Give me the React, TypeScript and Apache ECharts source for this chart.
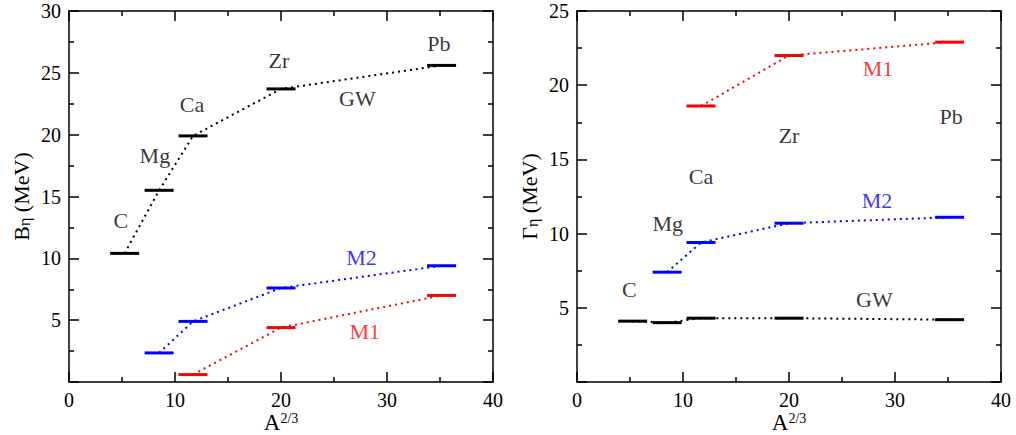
import React, { useEffect, useRef } from 'react';
import * as echarts from 'echarts';

// Nuclei and their A^(2/3) positions
const elements = ['C', 'Mg', 'Ca', 'Zr', 'Pb'];
const xA23 = [5.25, 8.5, 11.7, 20.0, 35.15];

// Left panel: binding energy B_eta (MeV)
const bindGW = [10.4, 15.5, 19.9, 23.7, 25.6];
const bindM2 = [null, 2.35, 4.9, 7.6, 9.4];
const bindM1 = [null, null, 0.6, 4.4, 7.0];

// Right panel: width Gamma_eta (MeV)
const widthGW = [4.1, 4.0, 4.3, 4.3, 4.2];
const widthM2 = [null, 7.4, 9.4, 10.7, 11.1];
const widthM1 = [null, null, 18.6, 22.0, 22.9];

// Annotation texts and their data positions
const labelText = ['C', 'Mg', 'Ca', 'Zr', 'Pb', 'GW', 'M2', 'M1'];
const labelColor = ['#000000', '#000000', '#000000', '#000000', '#000000', '#000000', '#0000ff', '#ff0000'];
const leftLabelX = [4.9, 8.1, 11.6, 19.8, 34.9, 27.2, 27.6, 27.9];
const leftLabelY = [13.06, 18.3, 22.4, 26.0, 27.4, 22.9, 10.05, 4.1];
const rightLabelX = [4.94, 8.56, 11.7, 20.0, 35.3, 28.05, 28.3, 28.4];
const rightLabelY = [6.25, 10.7, 13.83, 16.64, 17.88, 5.53, 12.26, 21.14];

const xTicks = { min: 0, max: 40, interval: 10 };
const leftYTicks = { min: 0, max: 30, interval: 5 };
const rightYTicks = { min: 0, max: 25, interval: 5 };

const FONT = "'Liberation Serif', 'Times New Roman', serif";

function pairs(vals: (number | null)[]) {
  const out: number[][] = [];
  xA23.forEach((x, i) => {
    const v = vals[i];
    if (v !== null && v !== undefined) out.push([x, v]);
  });
  return out;
}

const lineCol = { color: '#000', width: 1.5 };

function axisBase(showLabel: boolean, hideZero: boolean) {
  return {
    axisLine: { show: true, onZero: false, lineStyle: lineCol },
    axisTick: { show: true, inside: true, length: 10, lineStyle: lineCol },
    minorTick: { show: true, splitNumber: 2, length: 5, lineStyle: lineCol },
    splitLine: { show: false },
    minorSplitLine: { show: false },
    axisLabel: {
      show: showLabel,
      fontFamily: FONT,
      fontSize: 20,
      color: '#000',
      margin: 8,
      formatter: (v: number) => (hideZero && v === 0 ? '' : String(v)),
    },
  };
}

function xAxes(gridIndex: number) {
  return [
    {
      type: 'value',
      gridIndex,
      position: 'bottom',
      ...xTicks,
      ...axisBase(true, false),
      name: '{a|A}{s|2/3}',
      nameLocation: 'middle',
      nameGap: 29,
      nameMoveOverlap: false,
      nameTextStyle: {
        rich: {
          a: { fontFamily: FONT, fontSize: 23, color: '#000', verticalAlign: 'bottom', padding: [9, 0, 0, 0], lineHeight: 23 },
          s: { fontFamily: FONT, fontSize: 14, color: '#000', verticalAlign: 'top', lineHeight: 14 },
        },
      },
    },
    {
      type: 'value',
      gridIndex,
      position: 'top',
      ...xTicks,
      ...axisBase(false, false),
    },
  ];
}

function yAxes(gridIndex: number, ticks: any, symbol: string) {
  return [
    {
      type: 'value',
      gridIndex,
      position: 'left',
      ...ticks,
      ...axisBase(true, true),
      name: '{a|' + symbol + '}{sub|η}{a| (MeV)}',
      nameLocation: 'middle',
      nameRotate: 90,
      nameGap: 37,
      nameMoveOverlap: false,
      nameTextStyle: {
        rich: {
          a: { fontFamily: FONT, fontSize: 22, color: '#000', verticalAlign: 'top', padding: [0, 0, 8, 0], lineHeight: 22 },
          sub: { fontFamily: FONT, fontSize: 16, color: '#000', verticalAlign: 'bottom', lineHeight: 16 },
        },
      },
    },
    {
      type: 'value',
      gridIndex,
      position: 'right',
      ...ticks,
      ...axisBase(false, false),
    },
  ];
}

function levelSeries(vals: (number | null)[], color: string, axisIdx: number) {
  return {
    type: 'line',
    xAxisIndex: axisIdx,
    yAxisIndex: axisIdx,
    data: pairs(vals),
    symbol: 'rect',
    symbolSize: [29, 3],
    showSymbol: true,
    itemStyle: { color },
    lineStyle: { color, width: 2, type: [2, 4] },
    silent: true,
    z: 3,
  };
}

function labelSeries(xs: number[], ys: number[], axisIdx: number) {
  return {
    type: 'scatter',
    xAxisIndex: axisIdx,
    yAxisIndex: axisIdx,
    symbolSize: 1,
    itemStyle: { color: 'rgba(0,0,0,0)' },
    silent: true,
    data: labelText.map((t, i) => ({
      name: t,
      value: [xs[i], ys[i]],
      label: { color: labelColor[i] },
    })),
    label: {
      show: true,
      position: 'inside',
      formatter: '{b}',
      fontFamily: FONT,
      fontSize: 22,
    },
    z: 4,
  };
}

export default function App() {
  const ref = useRef<HTMLDivElement>(null);
  useEffect(() => {
    if (!ref.current) return;
    const chart = echarts.init(ref.current, undefined, { renderer: 'svg' });
    const option: any = {
      animation: false,
      backgroundColor: '#ffffff',
      grid: [
        { left: 69, top: 11, width: 424, height: 371, containLabel: false, outerBoundsMode: 'none' },
        { left: 577, top: 11, width: 424, height: 371, containLabel: false, outerBoundsMode: 'none' },
      ],
      xAxis: [...xAxes(0), ...xAxes(1)],
      yAxis: [...yAxes(0, leftYTicks, 'B'), ...yAxes(1, rightYTicks, 'Γ')],
      series: [
        levelSeries(bindGW, '#000000', 0),
        levelSeries(bindM2, '#0000ff', 0),
        levelSeries(bindM1, '#ff0000', 0),
        labelSeries(leftLabelX, leftLabelY, 0),
        levelSeries(widthGW, '#000000', 2),
        levelSeries(widthM2, '#0000ff', 2),
        levelSeries(widthM1, '#ff0000', 2),
        labelSeries(rightLabelX, rightLabelY, 2),
      ],
    };
    chart.setOption(option);
    return () => chart.dispose();
  }, []);
  return (
    <div
      ref={ref}
      style={{ position: 'fixed', left: 0, top: 0, width: 1016, height: 435, background: '#fff' }}
    />
  );
}
